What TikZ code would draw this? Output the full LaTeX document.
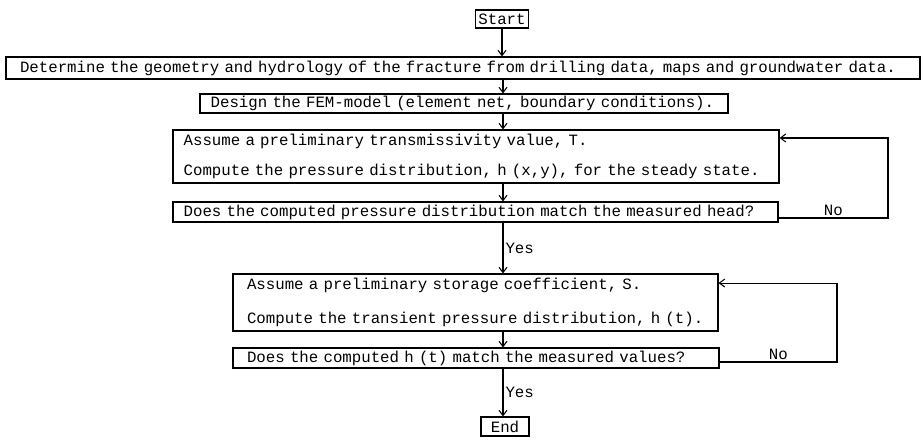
\documentclass[tikz,border=0pt]{standalone}
\usepackage{fontspec}
\setmonofont{Liberation Mono}
\usetikzlibrary{positioning, arrows.meta}

\newcommand{\typer}{\ttfamily\fontsize{11.8}{14}\selectfont}

\tikzset{
	box/.style={draw, line width=0.8pt, font=\typer, align=left, inner ysep=0pt},
	lbl/.style={font=\typer, inner sep=1.5pt},
	flow/.style={line width=0.8pt, -{Straight Barb[length=4pt, width=6pt]}}
}

\begin{document}
\begin{tikzpicture}[x=0.75pt, y=-0.75pt]
	\useasboundingbox (0, 0) rectangle (923, 439);
	\coordinate (spine) at (503, 0);
	\coordinate (r1) at (888, 0);
	\coordinate (r2) at (837, 0);
	\node[box, align=center, inner xsep=0pt, minimum width=39.75pt, minimum height=13.5pt] (start) at (502, 19) {Start};
	\node[box, inner xsep=10.5pt, text width=664.5pt, minimum height=16.5pt] (det) at (463, 68)
		{\mbox{Determine the geometry and hydrology of the fracture from drilling data, maps and groundwater data.}};
	\node[box, inner xsep=8pt, text width=380pt, minimum height=14.25pt] (des) at (464, 103.5)
		{\mbox{Design the FEM-model (element net, boundary conditions).}};
	\node[box, inner xsep=8pt, text width=438.5pt, minimum height=39.75pt] (asT) at (476, 156.5)
		{\mbox{Assume a preliminary transmissivity value, T.}\\[9pt]\mbox{Compute the pressure distribution, h (x,y), for the steady state.}};
	\node[box, inner xsep=8pt, text width=437.75pt, minimum height=15pt] (dec1) at (475.5, 212)
		{\mbox{Does the computed pressure distribution match the measured head?}};
	\node[box, inner xsep=10.5pt, text width=342.75pt, minimum height=42.75pt] (asS) at (475.5, 302.5)
		{\mbox{Assume a preliminary storage coefficient, S.}\\[12pt]\mbox{Compute the transient pressure distribution, h (t).}};
	\node[box, inner xsep=10.5pt, text width=343.5pt, minimum height=15pt] (dec2) at (476, 358)
		{\mbox{Does the computed h (t) match the measured values?}};
	\node[box, align=center, inner xsep=0pt, minimum width=36pt, minimum height=14.25pt] (stop) at (505, 426.5) {End};

	\draw[flow] (start) -- (start |- det.north);
	\draw[flow] (det.south -| spine) -- (des.north -| spine);
	\draw[flow] (des.south -| spine) -- (asT.north -| spine);
	\draw[flow] (asT.south -| spine) -- (dec1.north -| spine);
	\draw[flow] (dec1.south -| spine) -- node[lbl, right]{Yes} (asS.north -| spine);
	\draw[flow] (asS.south -| spine) -- (dec2.north -| spine);
	\draw[flow] (dec2.south -| spine) -- node[lbl, right]{Yes} (stop.north -| spine);
	\draw[flow] ([yshift=-4.5pt]dec1.east) -- node[lbl, above]{No} ([yshift=-4.5pt]dec1.east -| r1)
		|- ([yshift=13.9pt]asT.east);
	\draw[flow] ([yshift=-3pt]dec2.east) -- node[lbl, above]{No} ([yshift=-3pt]dec2.east -| r2)
		|- ([yshift=14.6pt]asS.east);
\end{tikzpicture}
\end{document}
